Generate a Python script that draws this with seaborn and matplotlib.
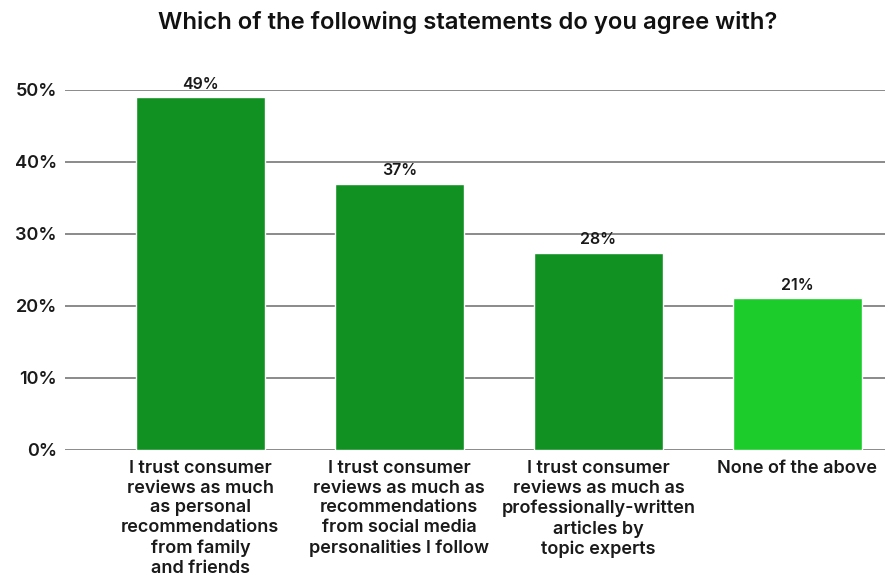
import matplotlib
matplotlib.use("Agg")
import matplotlib.pyplot as plt
import seaborn as sns
import pandas as pd

categories = [
    "I trust consumer\nreviews as much\nas personal\nrecommendations\nfrom family\nand friends",
    "I trust consumer\nreviews as much as\nrecommendations\nfrom social media\npersonalities I follow",
    "I trust consumer\nreviews as much as\nprofessionally-written\narticles by\ntopic experts",
    "None of the above",
]
values = [49, 37, 27.4, 21.1]
value_labels = ["49%", "37%", "28%", "21%"]
colors = ["#119122", "#119122", "#119122", "#1ccc2a"]
yticks = [0, 10, 20, 30, 40, 50]
ytick_labels = ["0%", "10%", "20%", "30%", "40%", "50%"]
title = "Which of the following statements do you agree with?"

sns.set_theme(style="white")
plt.rcParams["font.family"] = ["Inter", "DejaVu Sans"]

df = pd.DataFrame({"cat": categories, "val": values})

fig = plt.figure(figsize=(8.85, 5.81), dpi=100)
ax = fig.add_axes([65 / 885, 1 - 450 / 581, 1 - 65 / 885, (450 - 90) / 581])
sns.barplot(data=df, x="cat", y="val", hue="cat", palette=colors, legend=False,
            width=0.65, saturation=1, ax=ax, zorder=3)
ax.set_xlim(-0.68, 3.44)
ax.set_ylim(0, 50)
ax.set_yticks(yticks)
ax.set_yticklabels(ytick_labels, fontsize=13, fontweight="semibold", color="#1a1a1a")
ax.yaxis.grid(True, color="#8a8a8a", linewidth=1.4, zorder=0)
ax.set_axisbelow(True)
for s in ax.spines.values():
    s.set_visible(False)
ax.tick_params(axis="both", length=0)
ax.tick_params(axis="y", pad=6)
ax.tick_params(axis="x", pad=7)
ax.set_xticks(range(len(categories)))
ax.set_xticklabels(categories, fontsize=13, fontweight="semibold", color="#1a1a1a",
                   linespacing=1.22)
ax.set_xlabel("")
ax.set_ylabel("")
for i, (v, lab) in enumerate(zip(values, value_labels)):
    ax.annotate(lab, (i, v), xytext=(0, 4), textcoords="offset points",
                ha="center", va="bottom", fontsize=11.5, fontweight="semibold",
                color="#1a1a1a", annotation_clip=False)
fig.text(468 / 885, 1 - 22 / 581, title, ha="center", va="center",
         fontsize=17.2, fontweight="semibold", color="#111111")
fig.savefig("out.png", dpi=100)
